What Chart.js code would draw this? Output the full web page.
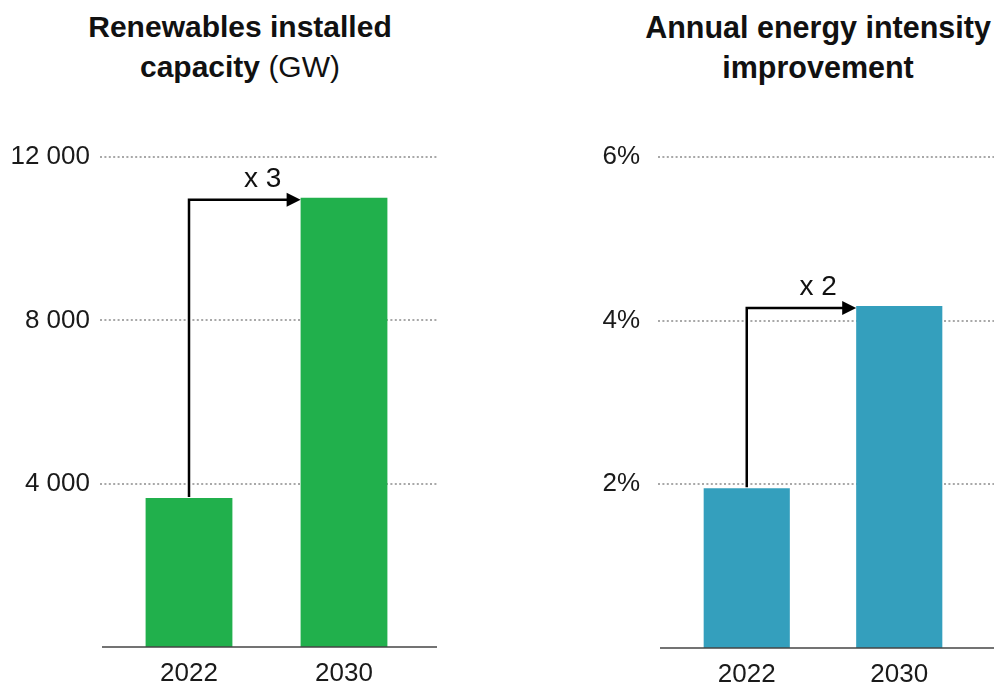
<!DOCTYPE html>
<html><head><meta charset="utf-8">
<script src="https://cdn.jsdelivr.net/npm/chart.js@4/dist/chart.umd.min.js"></script>
<style>
body{margin:0;width:1000px;height:685px;background:#fff;position:relative;overflow:hidden;font-family:"Liberation Sans",Arial,sans-serif;}
.t{position:absolute;top:7px;font-size:30px;line-height:40px;font-weight:bold;text-align:center;color:#111;white-space:nowrap;transform:translateX(-50%);}
.t span{font-weight:normal}
.w{position:absolute;top:0;width:500px;overflow:hidden}
</style></head><body>
<div class="t" style="left:240px">Renewables installed<br>capacity <span>(GW)</span></div>
<div class="t" style="left:818px;font-size:30.5px">Annual energy intensity<br>improvement</div>
<div class="w" style="left:0;height:685px"><canvas id="c1" width="500" height="685"></canvas></div>
<div class="w" style="left:500px;height:685px"><canvas id="c2" width="500" height="694"></canvas></div>
<script>
const years = ['2022', '2030'];
const capacityGW = [3650, 11000];
const intensityPct = [1.95, 4.18];
const capacityTickStep = 4000;
const capacityMax = 12000;
const intensityTickStep = 2;
const intensityMax = 6;
const capacityMultiplier = 'x 3';
const intensityMultiplier = 'x 2';

const FONT = '"Liberation Sans", Arial, sans-serif';

const extrasPlugin = {
  id: 'extras',
  beforeDatasetsDraw(chart, args, o) {
    const ctx = chart.ctx, ca = chart.chartArea, ys = chart.scales.y;
    ctx.save();
    ctx.strokeStyle = '#a8a8a8';
    ctx.lineWidth = 2;
    ctx.setLineDash([2, 2.4]);
    ys.ticks.forEach(t => {
      if (t.value === 0) return;
      const y = Math.round(ys.getPixelForValue(t.value));
      ctx.beginPath();
      ctx.moveTo(ca.left - o.extL, y);
      ctx.lineTo(ca.right + o.extR, y);
      ctx.stroke();
    });
    ctx.restore();
  },
  afterDatasetsDraw(chart, args, o) {
    const ctx = chart.ctx, ca = chart.chartArea, ys = chart.scales.y;
    const bars = chart.getDatasetMeta(0).data;
    ctx.save();
    const y0 = ys.getPixelForValue(0);
    ctx.strokeStyle = '#444';
    ctx.lineWidth = 1.5;
    ctx.beginPath();
    ctx.moveTo(ca.left - o.extL + 2, y0);
    ctx.lineTo(ca.right + o.extR, y0);
    ctx.stroke();
    const b0 = bars[0], b1 = bars[1];
    const yH = b1.y + 2;
    const tipX = b1.x - b1.width / 2;
    ctx.strokeStyle = '#000';
    ctx.fillStyle = '#000';
    ctx.lineWidth = 2.5;
    ctx.beginPath();
    ctx.moveTo(b0.x, b0.y - 1);
    ctx.lineTo(b0.x, yH);
    ctx.lineTo(tipX - 10, yH);
    ctx.stroke();
    ctx.beginPath();
    ctx.moveTo(tipX, yH);
    ctx.lineTo(tipX - 14, yH - 7);
    ctx.lineTo(tipX - 14, yH + 7);
    ctx.closePath();
    ctx.fill();
    ctx.font = '28px ' + FONT;
    ctx.textAlign = 'center';
    ctx.textBaseline = 'middle';
    ctx.fillStyle = '#111';
    ctx.fillText(o.label, tipX - 38, yH - 21);
    ctx.restore();
  }
};

function makeChart(id, values, color, max, step, fmt, cfg) {
  return new Chart(document.getElementById(id), {
    type: 'bar',
    data: {
      labels: years,
      datasets: [{ data: values, backgroundColor: color, borderWidth: 0,
        categoryPercentage: 1, barPercentage: cfg.barPct }]
    },
    plugins: [extrasPlugin],
    options: {
      responsive: false,
      animation: false,
      layout: { padding: { top: 157, right: cfg.padRight, bottom: 0, left: 0 } },
      plugins: {
        legend: { display: false },
        tooltip: { enabled: false },
        extras: { extL: cfg.extL, extR: cfg.extR, label: cfg.label }
      },
      scales: {
        x: {
          grid: { display: false },
          border: { display: false },
          ticks: { color: '#1a1a1a', font: { size: 26, family: FONT }, padding: 3, maxRotation: 0, autoSkip: false },
          afterFit: s => { s.height = cfg.xH; }
        },
        y: {
          min: 0, max: max,
          grid: { display: false, drawTicks: false },
          border: { display: false },
          ticks: { stepSize: step, color: '#1a1a1a', font: { size: 26, family: FONT },
            padding: cfg.tickPad, callback: v => v === 0 ? '' : fmt(v) },
          afterFit: s => { s.width = cfg.axisW; }
        }
      }
    }
  });
}

makeChart('c1', capacityGW, '#21b04c', capacityMax, capacityTickStep,
  v => String(v).replace(/\B(?=(\d{3})+(?!\d))/g, ' '),
  { axisW: 111.5, padRight: 78.5, tickPad: 21.5, extL: 11.5, extR: 15.5, barPct: 0.56, xH: 38, label: capacityMultiplier });

makeChart('c2', intensityPct, '#349fbd', intensityMax, intensityTickStep,
  v => v + '%',
  { axisW: 170.5, padRight: 24.5, tickPad: 30.5, extL: 12.5, extR: 18.5, barPct: 0.565, xH: 38, label: intensityMultiplier });
</script>
</body></html>
